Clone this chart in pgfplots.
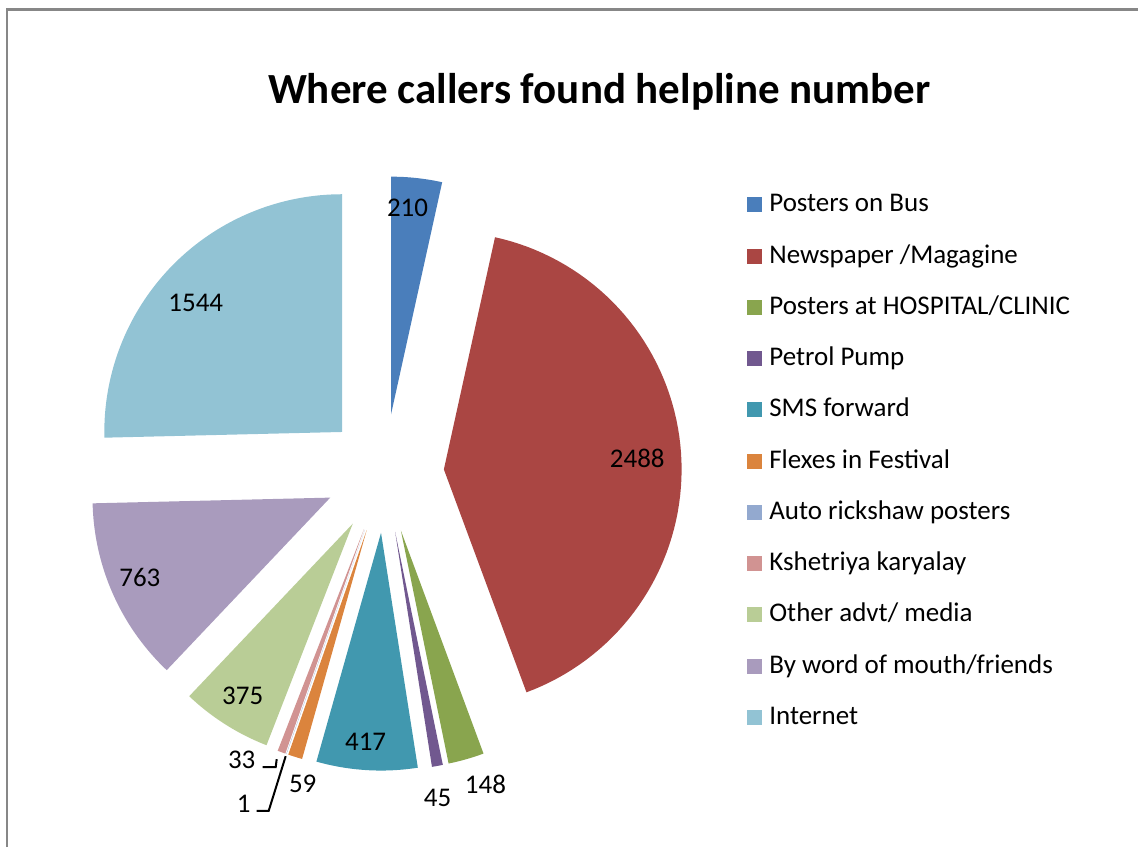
\documentclass[border=0pt]{standalone}
\usepackage{fontspec}
\setmainfont{Carlito}
\usepackage{pgfplots}
\pgfplotsset{compat=1.18}

% Excel 2007 palette
\definecolor{cBus}{HTML}{4A7EBB}
\definecolor{cNews}{HTML}{AA4643}
\definecolor{cHosp}{HTML}{89A54E}
\definecolor{cPetrol}{HTML}{71588F}
\definecolor{cSMS}{HTML}{4198AF}
\definecolor{cFlex}{HTML}{DB843D}
\definecolor{cAuto}{HTML}{93A9CF}
\definecolor{cKshe}{HTML}{D19392}
\definecolor{cOther}{HTML}{B9CD96}
\definecolor{cWord}{HTML}{A99BBD}
\definecolor{cNet}{HTML}{92C3D4}

% pie geometry (picture units = px)
\def\total{6083}
\def\cx{385}\def\cy{474}\def\rad{238}\def\explode{59.5}
\xdef\cum{0}

% one exploded slice: value, colour, legend text
\newcommand\slice[3]{%
  \pgfmathsetmacro\aStart{90-360*(\cum/\total)}%
  \pgfmathsetmacro\aEnd{90-360*((\cum+#1)/\total)}%
  \pgfmathsetmacro\aMid{(\aStart+\aEnd)/2}%
  \pgfmathsetmacro\ox{\cx+\explode*cos(\aMid)}%
  \pgfmathsetmacro\oy{\cy-\explode*sin(\aMid)}%
  \xdef\slicecoords{(\ox,\oy)}%
  \foreach \k in {0,...,72}{%
    \pgfmathsetmacro\sang{\aStart+(\aEnd-\aStart)*\k/72}%
    \pgfmathsetmacro\px{\ox+\rad*cos(\sang)}%
    \pgfmathsetmacro\py{\oy-\rad*sin(\sang)}%
    \xdef\slicecoords{\slicecoords (\px,\py)}%
  }%
  \edef\doslice{\noexpand\addplot[fill=#2, draw=none] coordinates {\slicecoords};}%
  \doslice
  \addlegendentry{#3}%
  \pgfmathsetmacro\newcum{\cum+#1}%
  \xdef\cum{\newcum}%
}

\begin{document}
\begin{tikzpicture}[font=\fontsize{27}{32}\selectfont]
\begin{axis}[
    scale only axis,
    width=1139pt, height=848pt,
    xmin=0, xmax=1139, ymin=0, ymax=848,
    y dir=reverse,
    hide axis,
    clip=false,
    legend cell align=left,
    legend image code/.code={\fill[#1] (0pt,-7.5pt) rectangle (15pt,7.5pt);},
    legend style={at={(axis cs:748,192)}, anchor=north west, draw=none, fill=none,
        inner sep=0pt, column sep=7pt, row sep=25.3pt,
        nodes={inner sep=0pt, text height=20pt, text depth=6pt},
        font=\fontsize{27}{32}\selectfont},
]
\path (axis cs:0,0) rectangle (axis cs:1139,848);
\draw[color=black!47, line width=2.5pt] (axis cs:7.2,848) -- (axis cs:7.2,9.3) -- (axis cs:1139,9.3);

\slice{210}{cBus}{Posters on Bus}
\slice{2488}{cNews}{Newspaper /Magagine}
\slice{148}{cHosp}{Posters at HOSPITAL/CLINIC}
\slice{45}{cPetrol}{Petrol Pump}
\slice{417}{cSMS}{SMS forward}
\slice{59}{cFlex}{Flexes in Festival}
\slice{1}{cAuto}{Auto rickshaw posters}
\slice{33}{cKshe}{Kshetriya karyalay}
\slice{375}{cOther}{Other advt/ media}
\slice{763}{cWord}{By word of mouth/friends}
\slice{1544}{cNet}{Internet}

% data labels
\node at (axis cs:408,208) {210};
\node at (axis cs:638,459) {2488};
\node at (axis cs:486,785) {148};
\node at (axis cs:438,799) {45};
\node at (axis cs:366,743) {417};
\node at (axis cs:303,785) {59};
\node at (axis cs:244,805) {1};
\node at (axis cs:242,761) {33};
\node at (axis cs:243,697) {375};
\node at (axis cs:140,578) {763};
\node at (axis cs:196,303) {1544};
\draw[line width=2pt] (axis cs:263,768) -- (axis cs:276,768) -- (axis cs:277,760);
\draw[line width=2pt] (axis cs:257,811.7) -- (axis cs:269,811.7) -- (axis cs:286,757);

\node[anchor=base, font=\bfseries\fontsize{43}{50}\selectfont] at (axis cs:600,104)
    {Where callers found helpline number};
\end{axis}
\end{tikzpicture}
\end{document}
